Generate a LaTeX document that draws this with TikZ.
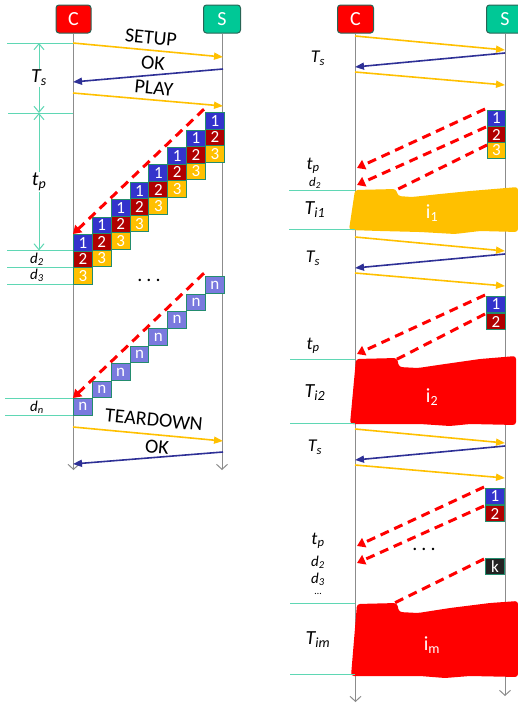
\documentclass[tikz,border=0pt]{standalone}
\usepackage{fontspec}
\setmainfont{Carlito}
\usetikzlibrary{arrows.meta}

\definecolor{msgorange}{RGB}{255,192,0}
\definecolor{msgblue}{RGB}{46,48,150}
\definecolor{pktblue}{RGB}{51,51,204}
\definecolor{pktred}{RGB}{176,0,0}
\definecolor{pktn}{RGB}{122,122,222}
\definecolor{pktk}{RGB}{34,34,34}
\definecolor{pktedge}{RGB}{35,140,110}
\definecolor{dimteal}{RGB}{95,215,180}
\definecolor{hdrgreen}{RGB}{0,200,150}
\definecolor{hdredge}{RGB}{40,100,85}
\definecolor{lifegray}{RGB}{140,140,140}

\newcommand{\spaceddots}{.\hspace{4pt}.\hspace{4pt}.}

\begin{document}
\begin{tikzpicture}[x=1pt, y=-1pt,
  every node/.style={font=\fontsize{20}{24}\selectfont},
  hdrbox/.style={draw=hdredge, line width=1pt, rounded corners=3pt, minimum width=35pt, minimum height=28pt, inner sep=0pt, text=white},
  lifeline/.style={draw=lifegray, line width=1pt, -{Straight Barb[length=5pt,width=11pt]}},
  msgreq/.style={draw=msgorange, line width=1.6pt, -{Triangle[length=9pt,width=7pt]}},
  msgrep/.style={draw=msgblue, line width=1.6pt, -{Triangle[length=9pt,width=7pt]}},
  pkt/.style={draw=pktedge, line width=1pt, anchor=north west, minimum width=18.85pt, minimum height=16.5pt, inner sep=0pt, text=white, font=\fontsize{17}{17}\selectfont},
  lossline/.style={draw=red, line width=3pt, dash pattern=on 9pt off 6pt},
  lossarrow/.style={lossline, -{Triangle[length=8pt,width=10pt]}},
  guideline/.style={draw=dimteal, line width=1pt},
  spanarrow/.style={guideline, {Straight Barb[length=6pt,width=10pt]}-{Straight Barb[length=6pt,width=10pt]}},
  tlabel/.style={font=\fontsize{20}{24}\selectfont\itshape, inner sep=1pt},
  rlabel/.style={font=\fontsize{18}{22}\selectfont\itshape, inner sep=1pt},
  dlabel/.style={font=\fontsize{15}{18}\selectfont\itshape, inner sep=0pt},
  msglabel/.style={rotate=-5.3},
  blocklabel/.style={text=white},
]
\useasboundingbox (0,0) rectangle (518,704);

% ---------- left: one session, all packets arrive ----------
\node[hdrbox, fill=red] (cL) at (73.5,19) {C};
\node[hdrbox, fill=hdrgreen, minimum width=37pt] (sL) at (222,19) {S};
\coordinate (cLend) at (73,470);
\coordinate (sLend) at (223,470);
\draw[lifeline] (cL) -- (cL |- cLend);
\draw[lifeline] (sL) -- (sL |- sLend);

\coordinate (setupC) at (73,43);  \coordinate (setupS) at (223,57);
\coordinate (okS) at (223,69);    \coordinate (okC) at (73,82);
\coordinate (playC) at (73,93);   \coordinate (playS) at (223,106);
\coordinate (tdC) at (73,427);    \coordinate (tdS) at (223,441);
\coordinate (okbS) at (223,452);  \coordinate (okbC) at (73,464);
\draw[msgreq] (setupC) -- (setupS);
\draw[msgrep] (okS) -- (okC);
\draw[msgreq] (playC) -- (playS);
\draw[msgreq] (tdC) -- (tdS);
\draw[msgrep] (okbS) -- (okbC);
\node[msglabel] (lsetup) at (151,38) {SETUP};
\node[msglabel] (lok) at (153,63) {OK};
\node[msglabel] (lplay) at (154,88) {PLAY};
\node[msglabel] (lteardown) at (154,420) {TEARDOWN};
\node[msglabel] (lokb) at (157,447) {OK};

% packets 1,2,3
\foreach \k in {0,...,7} {
  \pgfmathsetmacro{\px}{73+18.85*\k}
  \pgfmathsetmacro{\py}{234-17.4*\k}
  \node[pkt, fill=pktblue] (a1-\k) at (\px,\py) {1};
  \node[pkt, fill=pktred] (a2-\k) at (\px,\py+16.5) {2};
  \node[pkt, fill=msgorange] (a3-\k) at (\px,\py+33) {3};
}
\draw[lossarrow] ([shift={(-1,-3)}]a1-7.north west) -- (a1-0.north west);

\node (ldots) at (149,280) {\spaceddots};

% packets n
\foreach \k in {0,...,7} {
  \node[pkt, fill=pktn] (n-\k) at ({73+18.85*\k},{398-17.4*\k}) {n};
}
\draw[lossarrow] ([shift={(-1,-3)}]n-7.north west) -- (n-0.north west);

% spans
\coordinate (tsA) at (39,43);
\coordinate (tsB) at (39,113);
\coordinate (tpB) at (39,250.5);
\draw[guideline] (setupC) -- +(-66,0);
\draw[guideline] (73,113) -- (8,113);
\draw[guideline] (a2-0.north west) -- +(-66,0);
\draw[guideline] (a3-0.north west) -- +(-66,0);
\draw[guideline] (a3-0.south west) -- +(-66,0);
\draw[guideline] (n-0.north west) -- +(-68,0);
\draw[guideline] (n-0.south west) -- +(-68,0);
\draw[spanarrow] (tsA) -- (tsB) node[midway, fill=white, tlabel] (lts) {T\textsubscript{s}};
\draw[spanarrow] (tsB) -- (tpB) node[midway, fill=white, tlabel] (ltp) {t\textsubscript{p}};
\node[dlabel] (ld2) at (37,259) {d\textsubscript{2}};
\node[dlabel] (ld3) at (37,275) {d\textsubscript{3}};
\node[dlabel] (ldn) at (37,407) {d\textsubscript{n}};

% ---------- right: several sessions, packets lost ----------
\node[hdrbox, fill=red, minimum width=36pt] (cR) at (355.5,19) {C};
\node[hdrbox, fill=hdrgreen, minimum width=37pt] (sR) at (505,19) {S};
\coordinate (cRend) at (355,702);
\coordinate (sRend) at (505,696);
\draw[lifeline] (cR) -- (cR |- cRend);
\draw[lifeline] (sR) -- (sR |- sRend);

\foreach \g/\y in {a/36, b/237, c/429} {
  \coordinate (\g c1) at (355,\y);
  \coordinate (\g s1) at (505,\y+14);
  \coordinate (\g s2) at (505,\y+17);
  \coordinate (\g c2) at (355,\y+31);
  \coordinate (\g c3) at (355,\y+36);
  \coordinate (\g s3) at (505,\y+49);
  \draw[msgreq] (\g c1) -- (\g s1);
  \draw[msgrep] (\g s2) -- (\g c2);
  \draw[msgreq] (\g c3) -- (\g s3);
}

% session 1
\node[pkt, fill=pktblue, minimum width=18pt, minimum height=16pt] (b1) at (487,110) {1};
\node[pkt, fill=pktred, minimum width=18pt, minimum height=16pt] (b2) at (487,126) {2};
\node[pkt, fill=msgorange, minimum width=18pt, minimum height=16pt] (b3) at (487,142) {3};
\coordinate (b1end) at (357,168);
\coordinate (b2end) at (357,185);
\coordinate (b3end) at (372,202);
\draw[lossarrow] ([shift={(-2,-1)}]b1.north west) -- (b1end);
\draw[lossarrow] ([shift={(-1,1)}]b2.north west) -- (b2end);
\draw[lossline] ([shift={(0,3)}]b3.north west) -- (b3end);

% session 2
\node[pkt, fill=pktblue, minimum width=19pt, minimum height=16pt] (e1) at (486,296) {1};
\node[pkt, fill=pktred, minimum width=19pt, minimum height=16pt] (e2) at (486,313) {2};
\coordinate (e1end) at (357,354);
\coordinate (e2end) at (372,372);
\draw[lossarrow] ([shift={(-1,-1)}]e1.north west) -- (e1end);
\draw[lossline] ([shift={(-1,1)}]e2.north west) -- (e2end);

% session m
\node[pkt, fill=pktblue, minimum width=19pt, minimum height=16pt] (m1) at (485,488) {1};
\node[pkt, fill=pktred, minimum width=19pt, minimum height=16pt] (m2) at (485,505) {2};
\node[pkt, fill=pktk, minimum width=19pt, minimum height=16pt] (mk) at (485,558) {k};
\coordinate (m1end) at (357,546);
\coordinate (m2end) at (357,563);
\coordinate (mkend) at (372,614);
\draw[lossarrow] ([shift={(-1,-1)}]m1.north west) -- (m1end);
\draw[lossarrow] ([shift={(-1,1)}]m2.north west) -- (m2end);
\draw[lossline] ([shift={(-1,1)}]mk.north west) -- (mkend);
\node (rdots) at (424,549) {\spaceddots};

% idle periods
\fill[msgorange, rounded corners=3pt] (355,190) -- (396,189) -- (398,196) -- (412,197) -- (440,194) -- (470,191) -- (518,187) -- (518,232) -- (480,231) -- (455,234) -- (420,232) -- (380,231) -- (349,230) -- cycle;
\fill[red, rounded corners=3pt] (356,359) -- (397,358) -- (399,367) -- (418,368) -- (445,364) -- (480,359) -- (516,356) -- (516,425) -- (470,424) -- (450,426) -- (420,424) -- (350,424) -- cycle;
\fill[red, rounded corners=3pt] (357,604) -- (397,603) -- (399,612) -- (418,613) -- (450,608) -- (490,603) -- (518,601) -- (518,677) -- (470,676) -- (445,678) -- (420,676) -- (351,676) -- cycle;
\node[blocklabel] (li1) at (432,213) {i\textsubscript{1}};
\node[blocklabel] (li2) at (432,397) {i\textsubscript{2}};
\node[blocklabel] (lim) at (432,645) {i\textsubscript{m}};

\draw[guideline] (289,190) -- (355,190);
\draw[guideline] (289,229) -- (355,229);
\draw[guideline] (290,359) -- (355,359);
\draw[guideline] (290,423) -- (355,423);
\draw[guideline] (290,603) -- (355,603);
\draw[guideline] (290,674) -- (355,674);

\node[rlabel] (rts1) at (318,58) {T\textsubscript{s}};
\node[rlabel] (rtp1) at (313,166) {t\textsubscript{p}};
\node[dlabel, font=\fontsize{13}{16}\selectfont\itshape] (rd21) at (315,183) {d\textsubscript{2}};
\node[tlabel] (rti1) at (315,210) {T\textsubscript{i1}};
\node[rlabel] (rts2) at (313,258) {T\textsubscript{s}};
\node[rlabel] (rtp2) at (313,346) {t\textsubscript{p}};
\node[tlabel] (rti2) at (315,393) {T\textsubscript{i2}};
\node[rlabel] (rts3) at (315,447) {T\textsubscript{s}};
\node[rlabel] (rtp3) at (318,541) {t\textsubscript{p}};
\node[dlabel] (rd2) at (318,562) {d\textsubscript{2}};
\node[dlabel] (rd3) at (318,579) {d\textsubscript{3}};
\node[dlabel, font=\fontsize{10}{12}\selectfont] (rdd) at (318,594) {\ldots};
\node[tlabel] (rtim) at (318,640) {T\textsubscript{im}};
\end{tikzpicture}
\end{document}
